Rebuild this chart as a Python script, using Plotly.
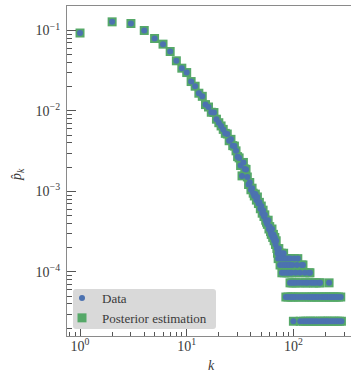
import numpy as np
import plotly.graph_objects as go

# Total number of nodes (1 count -> 1/N)
N_total = 41000

# Degrees k = 1..69 and their counts
k_head = list(range(1, 70))
count_head = [3813, 5248, 5002, 4100, 3260, 2772, 2247, 1722, 1394, 1230,
              951, 832, 681, 623, 492, 459, 395, 392, 324, 293,
              267, 242, 216, 212, 175, 182, 152, 150, 131, 111,
              107, 86, 64, 94, 78, 77, 62, 50, 53, 43,
              45, 39, 36, 38, 32, 35, 29, 30, 25, 27,
              22, 24, 20, 21, 18, 17, 16, 18, 14, 15,
              13, 12, 14, 11, 12, 10, 11, 9, 10]

# Sparse tail (only degrees with non-zero counts)
k_tail = [70, 71, 72, 73, 74, 75, 76, 77, 78, 79, 80, 81, 82, 83, 84, 85, 86, 87,
          88, 89, 90, 91, 92, 93, 94, 95, 96, 97, 98, 99, 100, 101, 102, 104, 105,
          106, 108, 110, 111, 113, 115, 116, 118, 120, 121, 123, 124, 126, 128, 130,
          131, 134, 136, 138, 140, 142, 143, 145, 147, 150, 152, 155, 157, 160, 163,
          165, 168, 172, 175, 178, 180, 184, 188, 192, 196, 200, 205, 208, 212, 216,
          220, 225, 230, 235, 240, 246, 252, 258, 264, 270, 278, 282]
count_tail = [8, 7, 6, 8, 7, 5, 6, 7, 4, 6, 5, 7, 4, 6, 5, 2, 6, 4,
              5, 2, 6, 4, 5, 3, 6, 2, 4, 3, 5, 2, 1, 3, 6, 2, 4,
              3, 5, 6, 2, 3, 4, 1, 2, 5, 3, 5, 1, 2, 4, 3,
              1, 2, 3, 1, 4, 2, 4, 1, 3, 2, 1, 3, 2, 1, 3,
              2, 1, 2, 3, 3, 1, 2, 1, 2, 1, 2, 1, 2, 1, 3,
              2, 1, 2, 1, 2, 1, 2, 1, 2, 1, 2, 1]

k_vals = k_head + k_tail
p_data = np.array(count_head + count_tail) / N_total
p_post = p_data.copy()

y_tickvals = [1e-4, 1e-3, 1e-2, 1e-1]
y_ticktext = ["10<sup>−4</sup>", "10<sup>−3</sup>", "10<sup>−2</sup>", "10<sup>−1</sup>"]
x_tickvals = [1, 10, 100]
x_ticktext = ["10<sup>0</sup>", "10<sup>1</sup>", "10<sup>2</sup>"]

x_minor = [m * 10.0 ** e for e in (-1, 0, 1, 2) for m in range(2, 10)]
y_minor = [m * 10.0 ** e for e in (-5, -4, -3, -2, -1) for m in range(2, 10)]

FONT = "Liberation Serif, DejaVu Serif, serif"
SPINE = "#8a8a8a"
TICK = "#555555"
TXT = "#3a3a3a"

# pixel geometry of the plot area
W, H = 351, 373
L, R, T, B = 67, 0, 6, 37
PW, PH = W - L - R, H - T - B


def px(xp):
    return (xp - L) / PW


def py(yp):
    return (H - B - yp) / PH


fig = go.Figure()
fig.add_trace(go.Scatter(
    x=k_vals, y=p_post, mode="markers", name="Posterior estimation",
    marker=dict(symbol="square", size=9, color="#55A868", line=dict(width=0)),
    legendrank=2))
fig.add_trace(go.Scatter(
    x=k_vals, y=p_data, mode="markers", name="Data",
    marker=dict(symbol="circle", size=6, color="#4C72B0", line=dict(width=0)),
    legendrank=1))

# rounded legend background
x0, x1, y0, y1 = px(73), px(216), py(329), py(289)
rx, ry = 3 / PW, 3 / PH
path = (f"M {x0+rx},{y0} L {x1-rx},{y0} Q {x1},{y0} {x1},{y0+ry} "
        f"L {x1},{y1-ry} Q {x1},{y1} {x1-rx},{y1} L {x0+rx},{y1} "
        f"Q {x0},{y1} {x0},{y1-ry} L {x0},{y0+ry} Q {x0},{y0} {x0+rx},{y0} Z")
fig.add_shape(type="path", path=path, xref="paper", yref="paper",
              fillcolor="#d9d9d9", line=dict(width=0), layer="below")

fig.update_layout(
    width=W, height=H,
    margin=dict(l=L, r=R, t=T, b=B, autoexpand=False),
    paper_bgcolor="white", plot_bgcolor="white",
    font=dict(family=FONT, size=13, color=TXT),
    showlegend=True,
    legend=dict(x=px(62), y=py(308), xanchor="left", yanchor="middle",
                bgcolor="rgba(0,0,0,0)", borderwidth=0,
                font=dict(family=FONT, size=13, color=TXT),
                itemsizing="trace", tracegroupgap=0),
    annotations=[
        dict(text="<i>k</i>", x=px(211), y=py(365), xref="paper", yref="paper",
             showarrow=False, xanchor="center", yanchor="middle",
             font=dict(family=FONT, size=14, color=TXT)),
        dict(text="<i>p̂</i><sub><i>k</i></sub>", x=px(17), y=py(175), xref="paper", yref="paper",
             showarrow=False, xanchor="center", yanchor="middle", textangle=-90,
             font=dict(family=FONT, size=14, color=TXT)),
    ],
)

fig.update_xaxes(
    type="log", range=[-0.122, 2.54], showgrid=False, zeroline=False,
    showline=True, linecolor=SPINE, linewidth=1.3, mirror=True,
    ticks="inside", ticklen=7, tickwidth=1, tickcolor=TICK,
    tickmode="array", tickvals=x_tickvals, ticktext=x_ticktext,
    tickfont=dict(family=FONT, size=14, color=TXT), ticklabelstandoff=-3,
    minor=dict(tickmode="array", tickvals=x_minor, ticks="inside", ticklen=4,
               tickwidth=1, tickcolor=TICK, showgrid=False),
    automargin=False,
)
fig.update_yaxes(
    type="log", range=[-4.796, -0.696], showgrid=False, zeroline=False,
    showline=True, linecolor=SPINE, linewidth=1.3, mirror=False,
    ticks="inside", ticklen=9, tickwidth=1, tickcolor=TICK,
    tickmode="array", tickvals=y_tickvals, ticktext=y_ticktext,
    tickfont=dict(family=FONT, size=14, color=TXT), ticklabelstandoff=3,
    minor=dict(tickmode="array", tickvals=y_minor, ticks="inside", ticklen=5,
               tickwidth=1, tickcolor=TICK, showgrid=False),
    automargin=False,
)

fig.write_html("out.html",
               config={"displayModeBar": False},
               post_script="document.body.style.margin='0';document.body.style.overflow='hidden';")
